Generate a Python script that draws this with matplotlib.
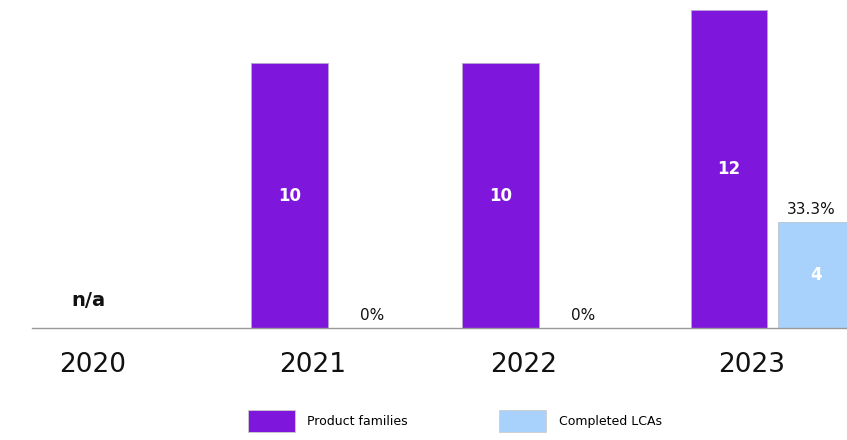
import numpy as np
import matplotlib.pyplot as plt
from matplotlib.patches import Patch

plt.rcParams['font.family'] = ['DejaVu Sans']

years = ["2020", "2021", "2022", "2023"]
product_families = [None, 10, 10, 12]
completed_lcas = [None, 0, 0, 4]
share_labels = ["n/a", "0%", "0%", "33.3%"]

purple = "#7E17DB"
light_blue = "#A8D1FC"

fig = plt.figure(figsize=(8.47, 4.40), dpi=100)
ax = fig.add_axes([0.0378, 0.2545, 1 - 0.0378, 0.7455])

# group positions along the category axis
x = np.array([0.0, 1.0, 1.96, 3.0])
width = 0.35
offset = 0.396

for i in range(len(years)):
    pf = product_families[i]
    lca = completed_lcas[i]
    if pf is None:
        ax.text(x[i] + 0.085, 1.05, share_labels[i], ha="center", va="center",
                fontsize=14, fontweight="bold", color="#111111")
        continue
    ax.bar(x[i], pf, width=width, color=purple, edgecolor="#b9a6cf", linewidth=0.6, zorder=2)
    ax.text(x[i], pf / 2, str(pf), ha="center", va="center",
            fontsize=12, fontweight="bold", color="white", zorder=3)
    xb = x[i] + offset
    if lca > 0:
        ax.bar(xb, lca, width=width, color=light_blue, edgecolor="#b8c4d0", linewidth=0.6, zorder=2)
        ax.text(xb, lca / 2, str(lca), ha="center", va="center",
                fontsize=12, fontweight="bold", color="white", zorder=3)
    ax.text(xb - 0.02, lca + 0.46, share_labels[i], ha="center", va="center",
            fontsize=11, color="#111111", zorder=3)

ax.set_xlim(-0.172, 3.537)
ax.set_ylim(0, 12.38)
ax.set_xticks(x + 0.105)
ax.set_xticklabels(years, fontsize=19, color="#111111")
ax.tick_params(axis="x", length=0, pad=17)
ax.set_yticks([])
for side in ["top", "right", "left"]:
    ax.spines[side].set_visible(False)
ax.spines["bottom"].set_color("#999999")
ax.spines["bottom"].set_linewidth(1.0)

handles = [Patch(facecolor=purple, edgecolor="#cccccc", linewidth=0.6, label="Product families"),
           Patch(facecolor=light_blue, edgecolor="#cccccc", linewidth=0.6, label="Completed LCAs")]
fig.legend(handles=handles, loc="center", bbox_to_anchor=(0.537, 0.043), ncol=2,
           frameon=False, fontsize=9, handlelength=3.76, handleheight=2.24,
           handletextpad=1.0, columnspacing=7.3)

fig.savefig("out.png", dpi=100)
